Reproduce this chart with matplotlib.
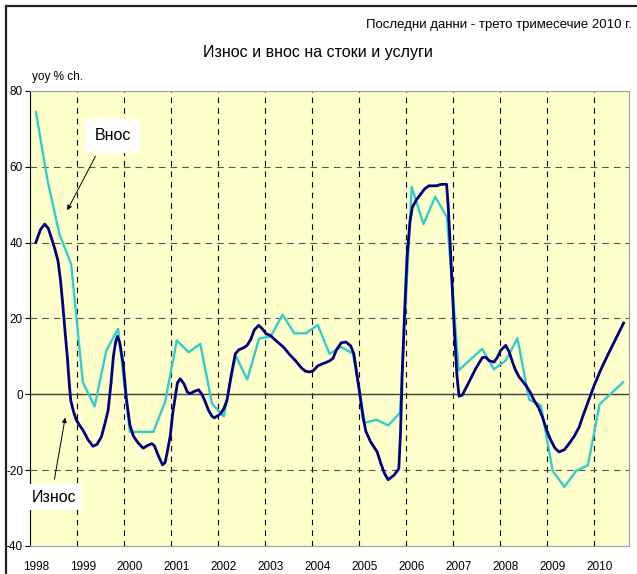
import numpy as np
import matplotlib
matplotlib.use('Agg')
import matplotlib.pyplot as plt
from matplotlib.patches import Rectangle

plt.rcParams['font.family'] = ['Liberation Sans Narrow', 'Liberation Sans', 'DejaVu Sans']
plt.rcParams['font.stretch'] = 'condensed'
plt.rcParams['axes.unicode_minus'] = False

# quarters, 0 = 1998 Q1 ... 50 = 2010 Q3
years = list(range(1998, 2011))

# Внос (imports), quarterly yoy % change
imp_q = list(range(51))
imp_val = [74.5, 56.3, 42.3, 34.4, 3.2, -3.2, 11.6, 17.3, -9.9, -9.9,
           -9.9, -2.0, 14.2, 11.1, 13.3, -2.5, -5.8, 10.3, 3.9, 14.7,
           15.3, 21.0, 16.1, 16.1, 18.3, 10.7, 12.5, 10.7, -7.5, -6.7,
           -8.2, -4.9, 54.7, 44.9, 52.1, 46.7, 6.3, 9.2, 12.0, 6.6,
           8.9, 14.8, -1.4, -2.9, -20.2, -24.4, -20.2, -18.7, -2.6, 0.3,
           3.2]

# Износ (exports) (position in quarters)
exp_q = [0, 0.4, 0.75, 1.05, 1.31, 1.6, 1.88, 2.1, 2.31, 2.5,
         2.68, 2.85, 2.97, 3.2, 3.45, 3.75, 4.02, 4.45, 4.87, 5.2,
         5.58, 5.9, 6.15, 6.4, 6.6, 6.8, 6.95, 7.15, 7.43, 7.7,
         8.0, 8.3, 8.7, 9.14, 9.5, 9.87, 10.1, 10.4, 10.78, 11.0,
         11.2, 11.44, 11.65, 11.86, 12.05, 12.29, 12.6, 12.9, 13.14, 13.5,
         13.85, 14.1, 14.4, 14.7, 15.0, 15.2, 15.5, 15.7, 16.0, 16.27,
         16.6, 16.98, 17.3, 17.7, 17.98, 18.3, 18.6, 18.97, 19.3, 19.6,
         19.97, 20.5, 21.1, 21.6, 22.1, 22.6, 22.95, 23.3, 23.6, 24.0,
         24.45, 25.0, 25.3, 25.6, 26.0, 26.4, 26.8, 27.07, 27.3, 27.58,
         27.85, 28.1, 28.5, 29.06, 29.4, 29.7, 30.0, 30.5, 30.9, 31.05,
         31.19, 31.4, 31.6, 31.85, 32.05, 32.4, 32.76, 33.1, 33.47, 33.8,
         34.12, 34.4, 34.61, 34.97, 35.1, 35.3, 35.6, 35.85, 36.03, 36.3,
         36.74, 37.1, 37.45, 38.02, 38.3, 38.58, 39.01, 39.3, 39.58, 40.0,
         40.3, 40.58, 40.85, 41.14, 41.71, 42.1, 42.42, 42.8, 43.13, 43.5,
         43.84, 44.2, 44.55, 45.0, 45.4, 45.85, 46.26, 46.6, 46.97, 47.54,
         48.1, 48.68, 49.4, 50.04]
exp_val = [40.1, 43.5, 44.9, 43.8, 41.4, 38.5, 35.3, 30.0, 23.0, 16.0,
           9.8, 2.5, -1.6, -4.5, -6.8, -8.3, -9.5, -12.0, -13.7, -13.2,
           -11.2, -7.5, -4.2, 3.0, 10.0, 14.0, 15.3, 13.5, 8.1, -1.0,
           -8.0, -11.0, -12.8, -14.2, -13.5, -13.0, -13.6, -16.0, -18.6, -18.0,
           -15.0, -11.0, -5.0, -0.7, 3.0, 4.1, 2.8, 0.6, 0.2, 0.8,
           1.2, 0.2, -1.8, -4.2, -5.8, -6.2, -5.6, -5.2, -3.8, -1.6,
           4.5, 10.7, 11.8, 12.3, 12.9, 14.5, 17.0, 18.2, 17.2, 16.0,
           15.5, 14.0, 12.4, 10.5, 8.9, 7.0, 6.1, 5.9, 6.2, 7.5,
           8.1, 8.8, 9.5, 11.8, 13.6, 13.8, 12.8, 10.7, 6.0, 0.2,
           -6.0, -9.8, -12.5, -15.2, -18.5, -21.0, -22.5, -21.3, -19.6, -10.0,
           5.4, 22.0, 36.1, 45.5, 49.3, 51.3, 52.8, 54.2, 55.0, 55.0,
           55.0, 55.3, 55.4, 55.4, 50.0, 38.0, 18.6, 5.0, -0.5, -0.2,
           2.4, 4.6, 6.8, 9.7, 9.8, 8.9, 8.5, 9.8, 11.6, 12.9,
           11.2, 8.5, 6.3, 4.6, 2.4, 0.5, -1.6, -3.5, -6.0, -9.5,
           -12.1, -14.2, -15.2, -14.6, -13.0, -11.0, -8.6, -5.5, -2.4, 2.4,
           6.5, 10.3, 14.8, 18.8]

fig = plt.figure(figsize=(6.37, 5.74), dpi=100)
ax = fig.add_axes([30/637, 1-546/574, 599/637, 455/574])
ax.set_facecolor('#FFFFCC')

ax.plot(imp_q, imp_val, color='#33CCCC', lw=1.7, zorder=3)
ax.plot(exp_q, exp_val, color='#000080', lw=2.0, zorder=4,
        solid_joinstyle='round')

ax.set_xlim(-0.5, 50.5)
ax.set_ylim(-40, 80)
ax.set_yticks(np.arange(-40, 81, 20))
ax.set_xticks(np.arange(0, 49, 4))
ax.set_xticklabels([str(y) for y in years])
ax.set_xticks(np.arange(3.5, 50, 4), minor=True)
ax.tick_params(axis='x', which='both', length=0, pad=11, labelsize=8.5)
ax.tick_params(axis='y', direction='out', length=3.5, width=0.8, pad=1.5,
               labelsize=8.5)

ax.grid(which='minor', axis='x', color='black', lw=0.8, ls=(0, (5, 4.5)))
ax.grid(which='major', axis='y', color='#555555', lw=0.8, ls=(0, (6, 4.5)))
ax.axhline(0, color='#404040', lw=1, zorder=2)

for s in ['top', 'right', 'bottom']:
    ax.spines[s].set_color('#a0a0a0')
ax.spines['left'].set_color('black')

# series labels with arrows
ax.annotate('', xy=(2.56, 47.9), xytext=(5.18, 63.4),
            arrowprops=dict(arrowstyle='-|>', color='black', lw=0.7,
                            mutation_scale=7), zorder=6)
ax.text(6.52, 68.2, 'Внос', ha='center', va='center', fontsize=11.5,
        bbox=dict(boxstyle='square,pad=0.6', fc='white', ec='none'), zorder=6)
ax.annotate('', xy=(2.54, -5.4), xytext=(1.54, -23.1),
            arrowprops=dict(arrowstyle='-|>', color='black', lw=0.7,
                            mutation_scale=7), zorder=6)
ax.text(1.58, -27.1, 'Износ', ha='center', va='center', fontsize=11.5,
        bbox=dict(boxstyle='square,pad=0.35', fc='white', ec='none'), zorder=6)

fig.text(318/637, 1-53/574, 'Износ и внос на стоки и услуги',
         ha='center', va='center', fontsize=11.5)
fig.text(632/637, 1-25/574, 'Последни данни - трето тримесечие 2010 г.',
         ha='right', va='center', fontsize=9.5)
fig.text(32/637, 1-77/574, 'yoy % ch.', ha='left', va='center', fontsize=8.5)

# outer chart frame (left and top edges visible)
fig.patches.append(Rectangle((6/637, -0.1), 1.2, 1.1 - 6/574,
                             transform=fig.transFigure, fill=False,
                             ec='#202020', lw=1.6))

fig.savefig('out.png', dpi=100)
